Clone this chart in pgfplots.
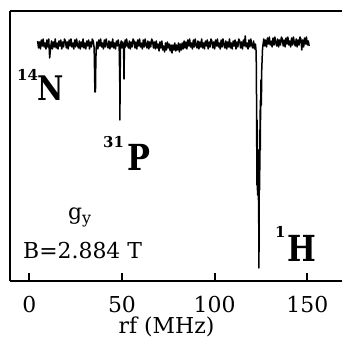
\documentclass[border=0pt]{standalone}
\usepackage{fontspec}
\setmainfont{DejaVu Serif}
\usepackage{pgfplots}
\pgfplotsset{compat=1.18}
\usepackage{graphicx}
\begin{document}
\begin{tikzpicture}[x=1bp,y=1bp]
\begin{axis}[
  at={(10bp,56bp)}, anchor=south west,
  scale only axis, width=332bp, height=270bp,
  xmin=-10.4, xmax=168.7, ymin=-281, ymax=-11,
  axis x line*=box, axis y line*=left,
  axis line style={line width=1.8bp},
  xtick={0,50,100,150}, xtick pos=bottom, ytick=\empty,
  tick align=inside, major tick length=8bp,
  every tick/.style={line width=1.8bp, black},
  /pgf/number format/assume math mode=true,
  xticklabel style={anchor=base, yshift=-31bp, font=\fontsize{22}{22}\selectfont},
  clip=false,
]
\addplot[black, line width=1.5bp, line join=round] coordinates {
(4.5,-41) (5.0,-48) (5.5,-42) (6.0,-49) (6.5,-40) (7.0,-46) (7.5,-39) (8.0,-47) (8.5,-43) (9.0,-49)
(9.5,-40) (10.0,-47) (10.5,-39) (11.0,-58) (11.5,-48) (12.0,-41) (12.5,-49) (13.0,-42) (13.5,-47) (14.0,-39)
(14.5,-48) (15.0,-43) (15.5,-49) (16.0,-41) (16.5,-46) (17.0,-40) (17.5,-49) (18.0,-42) (18.5,-47) (19.0,-39)
(19.5,-41) (20.0,-48) (20.5,-42) (21.0,-49) (21.5,-40) (22.0,-46) (22.5,-39) (23.0,-47) (23.5,-43) (24.0,-49)
(24.5,-40) (25.0,-47) (25.5,-39) (26.0,-45) (26.5,-48) (27.0,-41) (27.5,-49) (28.0,-42) (28.5,-47) (29.0,-39)
(29.5,-48) (30.0,-43) (30.5,-49) (31.0,-41) (31.5,-46) (32.0,-40) (32.5,-49) (33.0,-42) (33.5,-47) (34.0,-39)
(34.5,-41) (35.0,-48) (35.2,-70) (35.4,-92) (35.5,-75) (35.7,-92) (35.9,-62) (36.1,-48)
(36.5,-42) (37.0,-49) (37.5,-40) (38.0,-46) (38.5,-39) (39.0,-47) (39.5,-43) (40.0,-49) (40.5,-40) (41.0,-47)
(41.5,-39) (42.0,-45) (42.5,-48) (43.0,-41) (43.5,-49) (44.0,-42) (44.5,-47) (45.0,-39) (45.5,-48) (46.0,-43)
(46.5,-49) (47.0,-41) (47.5,-46) (48.0,-40) (48.5,-47)
(48.8,-80) (48.9,-120) (49.0,-80) (49.2,-46) (49.6,-41) (50.0,-48) (50.5,-42) (50.9,-50) (51.1,-79) (51.3,-50)
(51.7,-40) (52.0,-47) (52.5,-39) (53.0,-45) (53.5,-48) (54.0,-41) (54.5,-49) (55.0,-42) (55.5,-47) (56.0,-39)
(56.5,-41) (57.0,-48) (57.5,-42) (58.0,-49) (58.5,-40) (59.0,-46) (59.5,-39) (60.0,-47) (60.5,-43) (61.0,-49)
(61.5,-40) (62.0,-47) (62.5,-39) (63.0,-45) (63.5,-48) (64.0,-41) (64.5,-49) (65.0,-42) (65.5,-47) (66.0,-39)
(66.5,-41) (67.0,-48) (67.5,-42) (68.0,-49)
(68.5,-41) (69.0,-48) (69.5,-44) (70.0,-51) (70.5,-42) (71.0,-48) (71.5,-41) (72.0,-50) (72.5,-46) (73.0,-52)
(73.5,-43) (74.0,-50) (74.5,-42) (75.0,-48) (75.5,-44) (76.0,-51) (76.5,-45) (77.0,-53) (77.5,-45) (78.0,-50)
(78.5,-43) (79.0,-51) (79.5,-45) (80.0,-50) (80.5,-43) (81.0,-52) (81.5,-44) (82.0,-50) (82.5,-43) (83.0,-49)
(83.5,-41) (84.0,-48) (84.5,-42) (85.0,-49) (85.5,-40) (86.0,-46) (86.5,-39) (87.0,-47) (87.5,-43) (88.0,-49)
(88.5,-40) (89.0,-47) (89.5,-39) (90.0,-45) (90.5,-48) (91.0,-41) (91.5,-49) (92.0,-42) (92.5,-47) (93.0,-39)
(93.5,-48) (94.0,-43) (94.5,-49) (95.0,-41) (95.5,-46) (96.0,-40) (96.5,-49) (97.0,-42) (97.5,-47) (98.0,-39)
(98.5,-41) (99.0,-48) (99.5,-42) (100.0,-49) (100.5,-40) (101.0,-46) (101.5,-39) (102.0,-47) (102.5,-43) (103.0,-49)
(103.5,-40) (104.0,-47) (104.5,-39) (105.0,-45) (105.5,-48) (106.0,-41) (106.5,-49) (107.0,-42) (107.5,-47) (108.0,-39)
(108.5,-48) (109.0,-43) (109.5,-49) (110.0,-41) (110.5,-46) (111.0,-40) (111.5,-49) (112.0,-42) (112.5,-47) (113.0,-39)
(113.5,-41) (114.0,-48) (114.5,-42) (115.0,-49) (115.5,-40) (116.0,-46) (116.5,-36) (117.0,-47) (117.5,-43) (118.0,-49)
(118.5,-40) (119.0,-47) (119.5,-39) (120.0,-45) (120.5,-48) (121.0,-41) (121.5,-49) (122.0,-44)
(122.4,-52) (122.6,-100) (122.8,-185) (122.9,-120) (123.0,-190) (123.1,-150) (123.2,-195)
(123.3,-160) (123.4,-195) (123.5,-150) (123.6,-200) (123.7,-170) (123.8,-230) (123.9,-268) (124.0,-200) (124.1,-160) (124.2,-190)
(124.3,-130) (124.4,-170) (124.5,-110) (124.6,-150) (124.7,-100) (124.8,-120) (125.0,-80) (125.2,-105) (125.4,-70) (125.6,-60)
(125.8,-50) (126.0,-46)
(126.5,-39) (127.0,-46) (127.5,-40) (128.0,-47) (128.5,-38) (129.0,-44) (129.5,-37) (130.0,-45) (130.5,-41) (131.0,-47)
(131.5,-38) (132.0,-45) (132.5,-37) (133.0,-43) (133.5,-46) (134.0,-39) (134.5,-47) (135.0,-40) (135.5,-45) (136.0,-37)
(136.5,-39) (137.0,-46) (137.5,-40) (138.0,-47) (138.5,-38) (139.0,-44) (139.5,-37) (140.0,-45) (140.5,-41) (141.0,-47)
(141.5,-38) (142.0,-45) (142.5,-37) (143.0,-43) (143.5,-46) (144.0,-39) (144.5,-47) (145.0,-40) (145.5,-45) (146.0,-37)
(146.5,-39) (147.0,-50) (147.5,-40) (148.0,-47) (148.5,-38) (149.0,-44) (149.5,-37) (150.0,-45) (150.5,-41) (151.0,-46)
};
\end{axis}
% text labels (picture coordinates in bp, origin bottom-left)
\node[anchor=base, inner sep=0] at (166.5,4) {\fontsize{22}{22}\selectfont rf (MHz)};
\node[anchor=base west, inner sep=0] at (17,237) {\raisebox{20bp}{\fontsize{15}{15}\selectfont\bfseries 14}\scalebox{0.85}[1]{\fontsize{34}{34}\selectfont\bfseries N}};
\node[anchor=base west, inner sep=0] at (103,167) {\raisebox{23bp}{\fontsize{15}{15}\selectfont\bfseries 31}\hspace{4bp}\scalebox{0.85}[1]{\fontsize{36}{36}\selectfont\bfseries P}};
\node[anchor=base west, inner sep=0] at (275,76) {\raisebox{24bp}{\fontsize{15}{15}\selectfont\bfseries 1}\hspace{2bp}\scalebox{0.85}[1]{\fontsize{36}{36}\selectfont\bfseries H}};
\node[anchor=base west, inner sep=0] at (68,118) {\fontsize{22}{22}\selectfont g\raisebox{-4bp}{\fontsize{16}{16}\selectfont y}};
\node[anchor=base west, inner sep=0] at (23,79) {\fontsize{22}{22}\selectfont B=2.884 T};
\pgfresetboundingbox
\useasboundingbox (0,0) rectangle (342,337);
\end{tikzpicture}
\end{document}
